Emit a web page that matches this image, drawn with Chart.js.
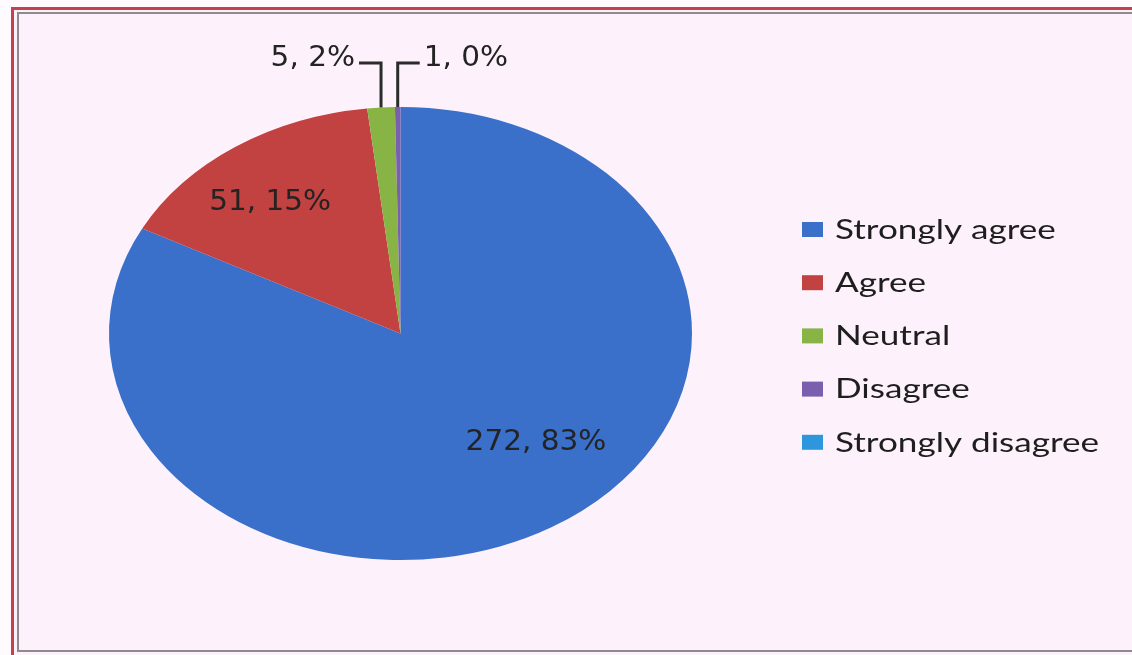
<!DOCTYPE html>
<html>
<head>
<meta charset="utf-8">
<script src="https://cdn.jsdelivr.net/npm/chart.js@4.4.1/dist/chart.umd.min.js"></script>
<style>
  html, body { margin: 0; padding: 0; background: #fefafd; }
  #wrap { position: relative; width: 1132px; height: 655px; overflow: hidden; background: #fefafd; }
  #outer { position: absolute; left: 11px; top: 7px; width: 1200px; height: 700px;
           border-left: 3px solid #c2424e; border-top: 3px solid #c2424e; background: #fdf2fc; }
  #inner { position: absolute; left: 17px; top: 12px; width: 1200px; height: 636px;
           border-left: 2px solid #8c8c8c; border-top: 2px solid #8c8c8c; border-bottom: 2px solid #8c8c8c; }
  #box { position: absolute; left: 0; top: 0; width: 1132px; height: 655px; }
</style>
</head>
<body>
<div id="wrap">
  <div id="outer"></div>
  <div id="inner"></div>
  <div id="box"><canvas id="chart"></canvas></div>
</div>
<script>
// data
const labels = ['Strongly agree', 'Agree', 'Neutral', 'Disagree', 'Strongly disagree'];
const counts = [272, 51, 5, 1, 0];
const colors = ['#3a70c9', '#c14241', '#88b446', '#7a5fae', '#2e96dd'];

// the pie in the picture is stretched sideways into an ellipse
const stretchX = 1.287;

function drawText(ctx, str, x, y, align, sx) {
    ctx.save();
    ctx.translate(x, y);
    ctx.scale(sx, 1);
    ctx.textAlign = align;
    ctx.textBaseline = 'middle';
    ctx.fillText(str, 0, 0);
    ctx.restore();
}

// whole percents that add up to 100 (largest remainder), like the office chart
function percents(vals) {
    const total = vals.reduce((s, v) => s + v, 0);
    const raw = vals.map(v => v / total * 100);
    const out = raw.map(Math.floor);
    let left = 100 - out.reduce((s, v) => s + v, 0);
    const order = raw.map((r, i) => i).sort((a, b) => (raw[b] - out[b]) - (raw[a] - out[a]));
    for (let k = 0; k < left; k++) out[order[k]]++;
    return out;
}

// squash the arcs into an ellipse
const ellipsePlugin = {
    id: 'ellipse',
    beforeDatasetDraw(chart) {
        const a = chart.getDatasetMeta(0).data[0];
        const ctx = chart.ctx;
        ctx.save();
        ctx.translate(a.x, a.y);
        ctx.scale(stretchX, 1);
        ctx.translate(-a.x, -a.y);
    },
    afterDatasetDraw(chart) {
        chart.ctx.restore();
    }
};

// "value, percent" labels, big slices inside, small ones with leader lines
const sliceLabels = {
    id: 'sliceLabels',
    afterDatasetsDraw(chart, args, opts) {
        const ctx = chart.ctx;
        const arcs = chart.getDatasetMeta(0).data;
        const vals = chart.data.datasets[0].data;
        const pct = percents(vals);
        ctx.save();
        ctx.fillStyle = '#232323';
        ctx.strokeStyle = '#2b2b2b';
        ctx.lineWidth = 3;
        ctx.font = '28px "DejaVu Sans"';
        arcs.forEach((arc, i) => {
            const v = vals[i];
            if (!v) return;
            const txt = v + ', ' + pct[i] + '%';
            const mid = (arc.startAngle + arc.endAngle) / 2;
            const R = arc.outerRadius;
            const inside = opts.inside[i];
            if (inside) {
                const ang = mid + inside.shift * Math.PI / 180;
                const x = arc.x + Math.cos(ang) * R * inside.r * stretchX;
                const y = arc.y + Math.sin(ang) * R * inside.r;
                drawText(ctx, txt, x, y + 3, 'center', 1.055);
            } else {
                const side = opts.outside[i] || 1;
                const px = arc.x + Math.cos(mid) * R * stretchX;
                const py = arc.y + Math.sin(mid) * R;
                const ex = px + side * 22;
                ctx.beginPath();
                ctx.moveTo(px, py);
                ctx.lineTo(px, opts.leaderY);
                ctx.lineTo(ex, opts.leaderY);
                ctx.stroke();
                drawText(ctx, txt, ex + side * 4, opts.textY, side < 0 ? 'right' : 'left', 1.055);
            }
        });
        ctx.restore();
    }
};

// legend on the right
const sideLegend = {
    id: 'sideLegend',
    afterDraw(chart, args, opts) {
        const ctx = chart.ctx;
        const ds = chart.data.datasets[0];
        ctx.save();
        ctx.font = opts.font;
        chart.data.labels.forEach((lab, i) => {
            const y = opts.top + i * opts.step;
            ctx.fillStyle = ds.backgroundColor[i];
            ctx.fillRect(opts.x, y - 7.5, 21, 15);
            ctx.fillStyle = '#1e1e1e';
            drawText(ctx, lab, opts.textX, y + 1, 'left', opts.sx);
        });
        ctx.restore();
    }
};

new Chart(document.getElementById('chart'), {
    type: 'pie',
    data: {
        labels: labels,
        datasets: [{
            data: counts,
            backgroundColor: colors,
            borderWidth: 0,
            hoverOffset: 0,
            clip: false
        }]
    },
    options: {
        responsive: true,
        maintainAspectRatio: false,
        animation: false,
        events: [],
        layout: {
            padding: { left: 174, right: 505, top: 107, bottom: 95 }
        },
        plugins: {
            legend: { display: false },
            tooltip: { enabled: false },
            sliceLabels: {
                inside: { 0: { shift: -13.6, r: 0.66 }, 1: { shift: -2.7, r: 0.74 } },
                outside: { 2: -1, 3: 1 },
                leaderY: 63,
                textY: 59
            },
            sideLegend: {
                x: 802, textX: 835, top: 229.5, step: 53.2,
                font: '26px Lato', sx: 1.35
            }
        }
    },
    plugins: [ellipsePlugin, sliceLabels, sideLegend]
});
</script>
</body>
</html>
